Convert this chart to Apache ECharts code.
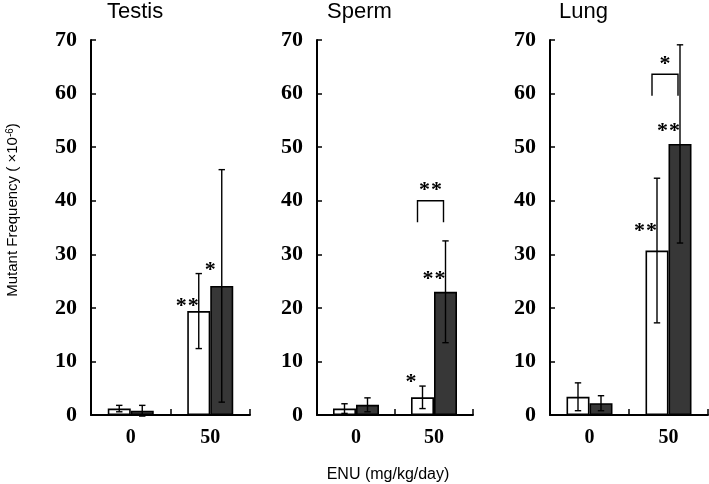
<!DOCTYPE html>
<html><head><meta charset="utf-8">
<script src="https://cdn.jsdelivr.net/npm/echarts@6/dist/echarts.min.js"></script>
<style>html,body{margin:0;padding:0;background:#fff}#c{width:709px;height:484px}</style>
</head><body><div id="c"></div>
<script>
// ---- data ----
const categories = ['0', '50'];
const panelTitles = ['Testis', 'Sperm', 'Lung'];
const yTicks = [0, 10, 20, 30, 40, 50, 60, 70];
// mean and SD per dose [0, 50]
const testisWhite = [1.2, 19.4];
const testisWhiteSD = [0.6, 7.0];
const testisDark = [0.8, 24.1];
const testisDarkSD = [1.0, 21.7];
const spermWhite = [1.2, 3.3];
const spermWhiteSD = [0.9, 2.1];
const spermDark = [1.9, 23.0];
const spermDarkSD = [1.3, 9.5];
const lungWhite = [3.4, 30.7];
const lungWhiteSD = [2.6, 13.5];
const lungDark = [2.2, 50.6];
const lungDarkSD = [1.4, 18.5];
// significance stars: [panel, category index, bar (0 white / 1 dark), value, text]
const starMarks = [
  [0, 1, 0, 20.9, '* *'],
  [0, 1, 1, 27.6, '*'],
  [1, 1, 0, 6.7, '*'],
  [1, 1, 1, 25.9, '* *'],
  [2, 1, 0, 34.8, '* *'],
  [2, 1, 1, 53.5, '* *']
];
// brackets between bars: [panel, category index, top value, leg value, text]
const brackets = [
  [1, 1, 40.0, 36.0, '* *'],
  [2, 1, 63.6, 59.6, '*']
];
const yName = 'Mutant Frequency';
const xName = 'ENU (mg/kg/day)';

// ---- layout / style ----
const grids = [
  {left: 91, top: 40, width: 159, height: 375},
  {left: 317, top: 40, width: 156, height: 375},
  {left: 550, top: 40, width: 158, height: 375}
];
const titleLefts = [107, 327, 559];
const BAR_W = 23;
const HALF = BAR_W / 2;
const STAR_GAP = 12;
const STAR_FS = 22;
const whites = [testisWhite, spermWhite, lungWhite];
const whiteSDs = [testisWhiteSD, spermWhiteSD, lungWhiteSD];
const darks = [testisDark, spermDark, lungDark];
const darkSDs = [testisDarkSD, spermDarkSD, lungDarkSD];
const serifBold = {fontFamily: 'Liberation Serif', fontWeight: 'bold'};

function starElems(txt, cx, cy) {
  const n = (txt.match(/\*/g) || []).length;
  const out = [];
  for (let k = 0; k < n; k++) {
    const x = cx + (k - (n - 1) / 2) * STAR_GAP;
    out.push({type: 'text', x: x, y: cy + 3, style: {text: '*', fill: '#000', fontSize: STAR_FS,
      fontFamily: 'Liberation Serif', fontWeight: 'bold', align: 'center', verticalAlign: 'middle'}});
  }
  return out;
}

const chart = echarts.init(document.getElementById('c'), null, {renderer: 'canvas'});

const xAxis = [], yAxis = [], series = [], title = [];
grids.forEach((g, p) => {
  title.push({text: panelTitles[p], left: titleLefts[p], top: 1, padding: 0,
    textStyle: {fontFamily: 'Liberation Sans', fontSize: 22, fontWeight: 'normal', color: '#000'}});
  xAxis.push({type: 'category', gridIndex: p, data: categories,
    axisLine: {lineStyle: {color: '#000', width: 2}},
    axisTick: {show: true, inside: true, length: 6, lineStyle: {color: '#000', width: 1.5}},
    axisLabel: Object.assign({color: '#000', fontSize: 20, margin: 13}, serifBold),
    splitLine: {show: false}});
  yAxis.push({type: 'value', gridIndex: p, min: yTicks[0], max: yTicks[yTicks.length - 1], interval: yTicks[1] - yTicks[0],
    axisLine: {show: true, lineStyle: {color: '#000', width: 2}},
    axisTick: {show: true, inside: true, length: 5, lineStyle: {color: '#000', width: 1.5}},
    axisLabel: Object.assign({color: '#000', fontSize: 22, margin: 14}, serifBold),
    splitLine: {show: false}});
  series.push({type: 'bar', xAxisIndex: p, yAxisIndex: p, data: whites[p], barWidth: BAR_W, barGap: '0%',
    itemStyle: {color: '#fff', borderColor: '#000', borderWidth: 1.6}, z: 2, silent: true});
  series.push({type: 'bar', xAxisIndex: p, yAxisIndex: p, data: darks[p], barWidth: BAR_W, barGap: '0%',
    itemStyle: {color: '#373737', borderColor: '#000', borderWidth: 1.6}, z: 2, silent: true});
  // error bars
  const errData = [];
  categories.forEach((c, i) => {
    errData.push([i, whites[p][i], whiteSDs[p][i], -1]);
    errData.push([i, darks[p][i], darkSDs[p][i], 1]);
  });
  series.push({type: 'custom', xAxisIndex: p, yAxisIndex: p, data: errData, z: 5, silent: true,
    renderItem: function (params, api) {
      const c = api.value(0), m = api.value(1), sd = api.value(2), side = api.value(3);
      const top = api.coord([c, m + sd]);
      const bot = api.coord([c, m - sd]);
      const x = top[0] + side * HALF;
      const cap = 3.2;
      const st = {stroke: '#000', lineWidth: 1.4, fill: null};
      return {type: 'group', children: [
        {type: 'line', shape: {x1: x, y1: top[1], x2: x, y2: bot[1]}, style: st},
        {type: 'line', shape: {x1: x - cap, y1: top[1], x2: x + cap, y2: top[1]}, style: st},
        {type: 'line', shape: {x1: x - cap, y1: bot[1], x2: x + cap, y2: bot[1]}, style: st}
      ]};
    }});
  // stars
  const stars = starMarks.filter(s => s[0] === p).map(s => [s[1], s[3], s[2], s[4]]);
  series.push({type: 'custom', xAxisIndex: p, yAxisIndex: p, data: stars, z: 6, silent: true,
    renderItem: function (params, api) {
      const c = api.value(0), v = api.value(1), b = api.value(2);
      const txt = stars[params.dataIndex][3];
      const pt = api.coord([c, v]);
      const x = pt[0] + (b === 0 ? -BAR_W : 0);
      return {type: 'group', children: starElems(txt, x, pt[1])};
    }});
  // brackets
  const br = brackets.filter(s => s[0] === p).map(s => [s[1], s[2], s[3], s[4]]);
  series.push({type: 'custom', xAxisIndex: p, yAxisIndex: p, data: br, z: 6, silent: true,
    renderItem: function (params, api) {
      const c = api.value(0), t = api.value(1), l = api.value(2);
      const txt = br[params.dataIndex][3];
      const pt = api.coord([c, t]);
      const pl = api.coord([c, l]);
      const x1 = pt[0] - HALF - 5, x2 = pt[0] + HALF - 2;
      return {type: 'group', children: [
        {type: 'polyline', shape: {points: [[x1, pl[1]], [x1, pt[1]], [x2, pt[1]], [x2, pl[1]]]},
          style: {stroke: '#000', lineWidth: 1.4, fill: null}}
      ].concat(starElems(txt, (x1 + x2) / 2, pt[1] - 13))};
    }});
});

chart.setOption({
  animation: false,
  backgroundColor: '#fff',
  title: title,
  grid: grids,
  xAxis: xAxis,
  yAxis: yAxis,
  series: series,
  graphic: [
    {type: 'text', x: 13, y: 210, rotation: Math.PI / 2,
      style: {text: yName + ' ( ×10{s|-6})', fill: '#000', fontSize: 15, fontFamily: 'Liberation Sans',
        align: 'center', verticalAlign: 'middle',
        rich: {s: {fontSize: 10, fontFamily: 'Liberation Sans', verticalAlign: 'top', lineHeight: 8, padding: [0, 0, 6, 0]}}}},
    {type: 'text', x: 388, y: 475,
      style: {text: xName, fill: '#000', fontSize: 16, fontFamily: 'Liberation Sans', align: 'center', verticalAlign: 'middle'}}
  ]
});
</script>
</body></html>
